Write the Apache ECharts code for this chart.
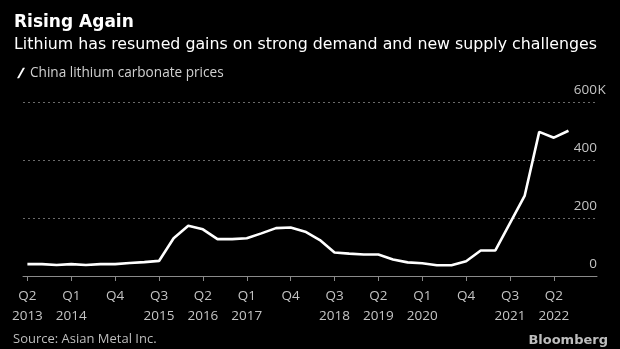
<!DOCTYPE html>
<html>
<head>
<meta charset="utf-8">
<script src="https://cdn.jsdelivr.net/npm/echarts@6/dist/echarts.min.js"></script>
<style>
  html, body { margin: 0; padding: 0; background: #000; }
  #chart { width: 620px; height: 349px; }
</style>
</head>
<body>
<div id="chart"></div>
<script>
// Quarterly China lithium carbonate price (thousand yuan per ton), Q2 2013 .. Q3 2022
const quarters = [
  'Q2 2013','Q3 2013','Q4 2013','Q1 2014','Q2 2014','Q3 2014','Q4 2014',
  'Q1 2015','Q2 2015','Q3 2015','Q4 2015','Q1 2016','Q2 2016','Q3 2016',
  'Q4 2016','Q1 2017','Q2 2017','Q3 2017','Q4 2017','Q1 2018','Q2 2018',
  'Q3 2018','Q4 2018','Q1 2019','Q2 2019','Q3 2019','Q4 2019','Q1 2020',
  'Q2 2020','Q3 2020','Q4 2020','Q1 2021','Q2 2021','Q3 2021','Q4 2021',
  'Q1 2022','Q2 2022','Q3 2022'
];
const prices = [
  41, 41, 38, 41, 38, 41, 41,
  45, 48, 52, 130, 173, 161, 127,
  127, 130, 147, 165, 167, 153, 124,
  81, 77, 74, 74, 57, 47, 44,
  37, 37, 51, 88, 88, 182, 276,
  497, 477, 501
];
// Tick labels every third quarter
const tickIndex = [0, 3, 6, 9, 12, 15, 18, 21, 24, 27, 30, 33, 36];
const tickLabels = [
  'Q2\n2013', 'Q1\n2014', 'Q4', 'Q3\n2015', 'Q2\n2016', 'Q1\n2017', 'Q4',
  'Q3\n2018', 'Q2\n2019', 'Q1\n2020', 'Q4', 'Q3\n2021', 'Q2\n2022'
];
const yTicks = [0, 200, 400, 600];

const FONT = '"Open Sans", "Noto Sans", sans-serif';
const HEAD_FONT = '"DejaVu Sans", sans-serif';
const chart = echarts.init(document.getElementById('chart'), null, { renderer: 'canvas' });

const option = {
  backgroundColor: '#000',
  animation: false,
  textStyle: { fontFamily: FONT },
  title: {
    text: 'Rising Again',
    subtext: 'Lithium has resumed gains on strong demand and new supply challenges',
    left: 9,
    top: 9,
    itemGap: 6,
    textStyle: { color: '#fff', fontSize: 17, fontWeight: 'bold', fontFamily: HEAD_FONT },
    subtextStyle: { color: '#fff', fontSize: 15.8, fontFamily: HEAD_FONT }
  },
  legend: {
    left: 12,
    top: 61,
    icon: 'path://M0,10 L5.5,0 L7.5,0 L2,10 Z',
    itemWidth: 8,
    itemHeight: 11,
    itemGap: 10,
    textStyle: { color: '#d0d0d0', fontSize: 13.6, fontFamily: FONT },
    data: ['China lithium carbonate prices']
  },
  grid: { left: 23, right: 23, top: 102, bottom: 73 },
  xAxis: {
    type: 'value',
    min: -0.3,
    max: 38.95,
    splitLine: { show: false },
    axisLine: { show: true, lineStyle: { color: '#8a8a8a', width: 1 } },
    axisTick: {
      show: true, customValues: tickIndex, length: 5,
      lineStyle: { color: '#8a8a8a' }
    },
    axisLabel: {
      customValues: tickIndex,
      color: '#c4c4c4',
      fontSize: 13.5,
      lineHeight: 20,
      margin: 10,
      fontFamily: FONT,
      formatter: v => tickLabels[tickIndex.indexOf(Math.round(v))] || ''
    }
  },
  yAxis: {
    type: 'value',
    position: 'right',
    min: 0,
    max: 600,
    interval: 200,
    axisLine: { show: false },
    axisTick: { show: false },
    splitLine: { show: true, lineStyle: { color: '#6a6a6a', type: [2, 3], width: 1 } },
    axisLabel: {
      inside: true,
      margin: 0,
      color: '#c4c4c4',
      fontSize: 13.5,
      verticalAlign: 'bottom',
      padding: [0, 0, 5, 0],
      fontFamily: FONT,
      formatter: v => String(v)
    }
  },
  series: [{
    name: 'China lithium carbonate prices',
    type: 'line',
    data: prices.map((p, i) => [i, p]),
    showSymbol: false,
    symbol: 'none',
    lineStyle: { color: '#fff', width: 2.6 },
    itemStyle: { color: '#fff' }
  }]
};
chart.setOption(option);

// "K" unit suffix placed right after the top tick value, and footer texts
const topPx = chart.convertToPixel({ yAxisIndex: 0 }, yTicks[yTicks.length - 1]);
const rightPx = chart.convertToPixel({ xAxisIndex: 0 }, 38.95);
chart.setOption({
  graphic: [
    {
      type: 'text', x: rightPx + 0.5, y: topPx - 5,
      style: { text: 'K', fill: '#c4c4c4', font: '13.5px ' + FONT, textVerticalAlign: 'bottom' }
    },
    {
      type: 'text', left: 13, bottom: 3,
      style: { text: 'Source: Asian Metal Inc.', fill: '#bdbdbd', font: '13px ' + FONT }
    },
    {
      type: 'text', right: 12, bottom: 2,
      style: { text: 'Bloomberg', fill: '#bdbdbd', font: 'bold 13px ' + HEAD_FONT }
    }
  ]
});
</script>
</body>
</html>
